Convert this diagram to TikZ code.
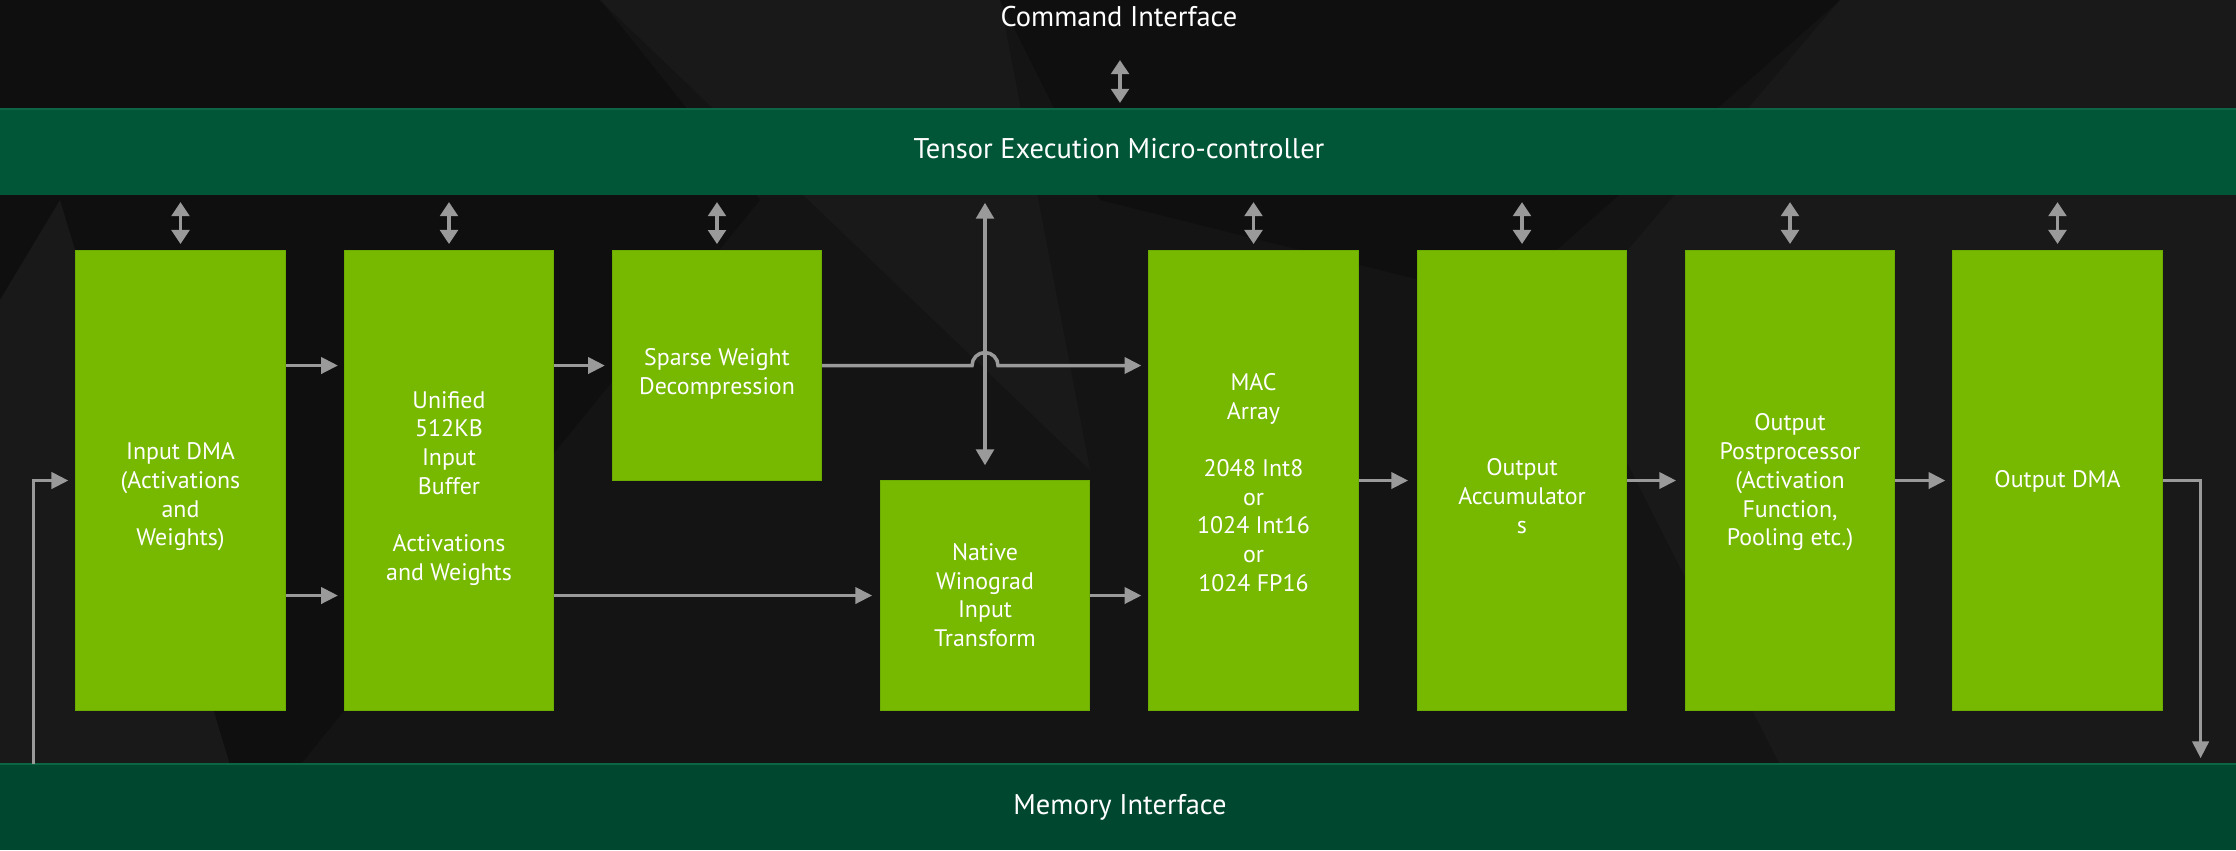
\documentclass[tikz,border=0pt]{standalone}
\usepackage{fontspec}
\setmainfont{PT Sans}
\usetikzlibrary{arrows.meta,calc}
\definecolor{bg}{HTML}{141414}
\definecolor{bgdark}{HTML}{0F0F0F}
\definecolor{bglight}{HTML}{191919}
\definecolor{nvgreen}{HTML}{76B900}
\definecolor{nvedge}{HTML}{6CAB00}
\definecolor{tecgreen}{HTML}{015638}
\definecolor{memgreen}{HTML}{00472F}
\definecolor{bandedge}{HTML}{0B6646}
\definecolor{arrowgray}{HTML}{9A9A9A}
\begin{document}
\begin{tikzpicture}[x=0.01cm,y=-0.01cm,
  box/.style={fill=nvgreen, draw=nvedge, line width=0.3pt, minimum width=2.09cm,
              minimum height=4.59cm, inner sep=0pt},
  lbl/.style={text=white, align=center, inner sep=0pt,
              font=\fontsize{6.8}{8.17}\selectfont},
  bandfont/.style={text=white, font=\fontsize{8.1}{9.7}\selectfont},
  band/.style={minimum width=22.36cm, minimum height=0.85cm, inner sep=0pt},
  flow/.style={draw=arrowgray, line width=1pt, -{Triangle[length=4.8pt,width=4.6pt]}},
  link/.style={draw=arrowgray, line width=1pt,
               {Triangle[length=4pt,width=5pt]}-{Triangle[length=4pt,width=5pt]},
               shorten <=1.8pt, shorten >=1.8pt}
]
\useasboundingbox (0,0) rectangle (2236,850);

% background with faint facets
\fill[bg] (0,0) rectangle (2236,850);
\fill[bgdark] (0,0) -- (600,0) -- (760,200) -- (300,765) -- (0,765) -- cycle;
\fill[bglight] (600,0) -- (1000,0) -- (1090,470) -- cycle;
\fill[bgdark] (1000,0) -- (1840,0) -- (1500,300) -- (1100,200) -- cycle;
\fill[bglight] (1840,0) -- (2236,0) -- (2236,765) -- (1780,765) -- (1560,330) -- cycle;
\fill[bglight] (0,300) -- (60,200) -- (230,765) -- (0,765) -- cycle;

% control and memory bands
\node[band, fill=tecgreen] (tec) at (1118,152.5) {};
\node[band, fill=memgreen] (mem) at (1118,807.5) {};
\draw[bandedge, line width=0.6pt] (tec.north west) -- (tec.north east);
\draw[bandedge, line width=0.6pt] (mem.north west) -- (mem.north east);
\node[bandfont, inner sep=0pt] (tecT) at (1119,149) {Tensor Execution Micro-controller};
\node[bandfont, inner sep=0pt] (memT) at (1120,807) {Memory Interface};
\node[bandfont, inner sep=0pt] (cmd) at (1119,17) {Command Interface};

% processing blocks
\node[box] (dma)  at (180.5,480.5) {};
\node[box] (ubuf) at (449,480.5) {};
\node[box, minimum height=2.29cm] (swd)  at (717,365.5) {};
\node[box, minimum height=2.29cm] (wino) at (985,595.5) {};
\node[box] (mac)  at (1253.5,480.5) {};
\node[box] (acc)  at (1522,480.5) {};
\node[box] (opp)  at (1790,480.5) {};
\node[box] (odma) at (2057.5,480.5) {};

% block labels
\node[lbl] (dmaT)  at (180.5,497) {Input DMA\\(Activations\\and\\Weights)};
\node[lbl] (ubufT) at (449,488.5) {Unified\\512KB\\Input\\Buffer\\[8.17pt]Activations\\and Weights};
\node[lbl] (swdT)  at (717,373.5) {Sparse Weight\\Decompression};
\node[lbl] (winoT) at (985,595) {Native\\Winograd\\Input\\Transform};
\node[lbl] (macT)  at (1253.5,482.5) {MAC\\Array\\[8.17pt]2048 Int8\\or\\1024 Int16\\or\\1024 FP16};
\node[lbl] (accT)  at (1522,496) {Output\\Accumulator\\s};
\node[lbl] (oppT)  at (1790,482.5) {Output\\Postprocessor\\(Activation\\Function,\\Pooling etc.)};
\node[lbl] (odmaT) at (2057.5,481) {Output DMA};

% control links to the micro-controller
\coordinate (cmdA) at (1120,60);
\draw[link, shorten <=0pt] (cmdA) -- (cmdA |- tec.north);
\foreach \b in {dma,ubuf,swd,mac,acc,opp,odma}
  \draw[link] (\b.north |- tec.south) -- (\b.north);
\draw[draw=arrowgray, line width=1pt,
      {Triangle[length=4.5pt,width=5pt]}-{Triangle[length=4.5pt,width=5pt]},
      shorten <=2pt, shorten >=4.3pt] (tec.south -| wino.north) -- (wino.north);

% data flow
\draw[flow, shorten >=1.7pt] (dma.east |- swd.east) -- (ubuf.west |- swd.east);
\draw[flow, shorten >=1.7pt] (dma.east |- wino.west) -- (ubuf.west |- wino.west);
\draw[flow, shorten >=2pt] (ubuf.east |- swd.west) -- (swd.west);
\draw[flow, shorten >=2.2pt] (ubuf.east |- wino.west) -- (wino.west);
\draw[flow, shorten >=2pt] (wino.east) -- (mac.west |- wino.east);
\coordinate (hop) at ($(wino.north |- swd.east)+(-13,0)$);
\draw[flow, shorten >=2pt] (swd.east) -- (hop)
  arc[start angle=180, end angle=0, radius=1.3mm] -- (mac.west |- swd.east);
\draw[flow, shorten >=2.5pt] (mac.east) -- (acc.west);
\draw[flow, shorten >=2.5pt] (acc.east) -- (opp.west);
\draw[flow, shorten >=2pt] (opp.east) -- (odma.west);
\coordinate (outTurn) at ($(odma.east)+(38,0)$);
\draw[flow, shorten >=1.7pt] (odma.east) -- (outTurn) -- (outTurn |- mem.north);
\coordinate (inTurn) at ($(dma.west)+(-42,0)$);
\draw[flow, shorten >=2pt] (inTurn |- mem.north) -- (inTurn) -- (dma.west);
\end{tikzpicture}
\end{document}
